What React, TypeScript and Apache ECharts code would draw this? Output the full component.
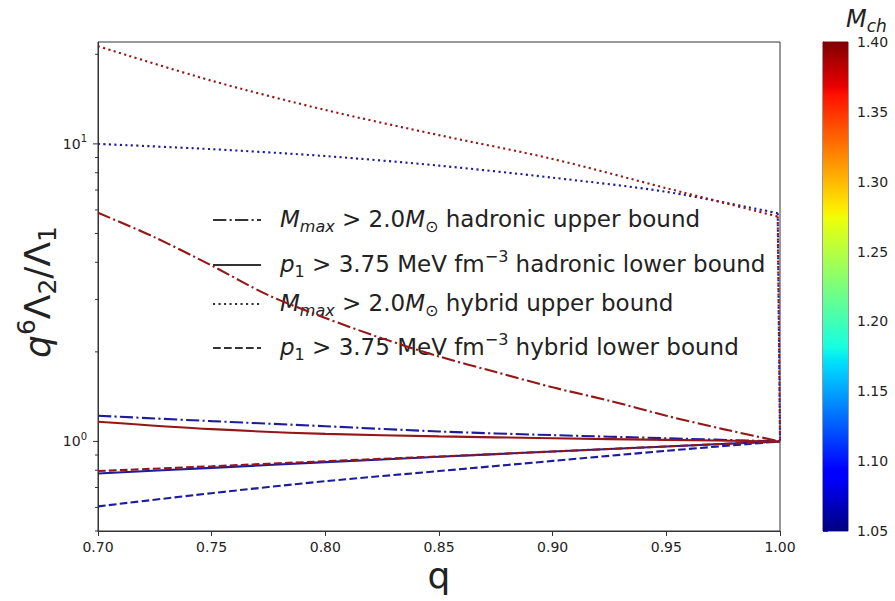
import React, { useEffect, useRef } from 'react';
import * as echarts from 'echarts';

// Mass ratio samples
const qUpper = [0.7, 0.75, 0.8, 0.85, 0.9, 0.95, 0.999, 1.0];
const qFine = [0.7, 0.725, 0.75, 0.775, 0.8, 0.825, 0.85, 0.875, 0.9, 0.925, 0.95, 0.975, 1.0];
const qCoarse = [0.7, 0.75, 0.8, 0.85, 0.9, 0.95, 1.0];

// q^6 Λ2/Λ1 bounds for the two chirp masses (1.05 and 1.40)
const hybridUpper105 = [10.0, 9.6, 9.1, 8.45, 7.7, 6.9, 5.85, 1.0];
const hybridUpper140 = [21.3, 16.3, 13.0, 10.7, 8.9, 7.1, 5.7, 1.0];
const hadronicUpper105 = [1.22, 1.17, 1.125, 1.08, 1.05, 1.025, 1.0];
const hadronicUpper140 = [5.87, 4.85, 3.9, 3.1, 2.6, 2.22, 1.93, 1.71, 1.52, 1.37, 1.22, 1.1, 1.0];
const hadronicLower105 = [0.78, 0.815, 0.852, 0.888, 0.925, 0.962, 1.0];
const hadronicLower140 = [1.165, 1.1, 1.06, 1.04, 1.025, 1.012, 1.0];
const hybridLower105 = [0.605, 0.67, 0.735, 0.795, 0.86, 0.93, 1.0];
const hybridLower140 = [0.795, 0.825, 0.858, 0.89, 0.925, 0.962, 1.0];

// Axis settings
const qRange = [0.7, 1.0];
const ratioRange = [0.5, 22];
const yMajorTicks = [1, 10];
const yMinorTicks = [0.5, 0.6, 0.7, 0.8, 0.9, 2, 3, 4, 5, 6, 7, 8, 9, 20];
const mchRange = [1.05, 1.4];

const legendLabels = [
  '{it|M}{subi|max}{n| > 2.0}{it|M}{sub|⊙}{n| hadronic upper bound}',
  '{it|p}{sub|1}{n| > 3.75 MeV fm}{sup|−3}{n| hadronic lower bound}',
  '{it|M}{subi|max}{n| > 2.0}{it|M}{sub|⊙}{n| hybrid upper bound}',
  '{it|p}{sub|1}{n| > 3.75 MeV fm}{sup|−3}{n| hybrid lower bound}',
];

const FONT = 'DejaVu Sans';
const INK = '#222';
const FRAME = '#333';

// jet colormap stops, t in [0, 1]
const JET: [number, string][] = [
  [0, '#000080'],
  [0.11, '#0000ff'],
  [0.125, '#0000ff'],
  [0.34, '#00dbff'],
  [0.35, '#00e5f7'],
  [0.375, '#14ffe2'],
  [0.64, '#eeff08'],
  [0.65, '#f7f500'],
  [0.66, '#ffec00'],
  [0.89, '#ff1300'],
  [0.91, '#e80000'],
  [1, '#800000'],
];
const COLOR_LOW = '#1c1c9c';
const COLOR_HIGH = '#941616';

const LW = 2.1;
const DASH_DOT = [13.3, 3.3, 2.1, 3.3];
const DASHED = [7.7, 3.3];
const DOTTED = [2.1, 3.4];
const SOLID: number[] | null = null;

function curve(q: number[], vals: number[], color: string, dash: number[] | null, smooth = 0.3) {
  return {
    type: 'line',
    xAxisIndex: 0,
    yAxisIndex: 0,
    data: q.map((x, i) => [x, vals[i]]),
    symbol: 'none',
    showSymbol: false,
    silent: true,
    smooth,
    lineStyle: { color, width: LW, type: dash ?? 'solid', cap: 'butt' },
  };
}

// upper hybrid bounds: smooth run up to q just below 1, then the drop to 1 at q = 1
function upperHybrid(vals: number[], color: string) {
  const n = qUpper.length;
  return [
    curve(qUpper.slice(0, n - 1), vals.slice(0, n - 1), color, DOTTED),
    curve(qUpper.slice(n - 2), vals.slice(n - 2), color, DOTTED, 0),
  ];
}

const legendRows = [220, 265, 304, 348];
const legendDashes = [DASH_DOT, SOLID, DOTTED, DASHED];

const LEG = 23;
const LEG_S = 16;
const legendRich = {
  n: { fontSize: LEG, fontFamily: FONT, verticalAlign: 'middle', color: INK },
  it: { fontSize: LEG, fontFamily: FONT, fontStyle: 'italic', verticalAlign: 'middle', color: INK },
  subi: { fontSize: LEG_S, fontFamily: FONT, fontStyle: 'italic', verticalAlign: 'bottom', color: INK },
  sub: { fontSize: LEG_S, fontFamily: FONT, verticalAlign: 'bottom', color: INK },
  sup: { fontSize: LEG_S, fontFamily: FONT, verticalAlign: 'top', color: INK },
};

const option: any = {
  animation: false,
  backgroundColor: '#fff',
  grid: [
    { left: 98, top: 42, width: 682, height: 489, show: true, borderColor: FRAME, borderWidth: 1, backgroundColor: 'transparent', containLabel: false },
    { left: 823, top: 42, width: 25, height: 489, show: true, borderColor: FRAME, borderWidth: 1, backgroundColor: 'transparent', containLabel: false },
  ],
  xAxis: [
    {
      gridIndex: 0,
      type: 'value',
      min: qRange[0],
      max: qRange[1],
      interval: 0.05,
      name: 'q',
      nameLocation: 'middle',
      nameGap: 26,
      nameMoveOverlap: false,
      nameTextStyle: { fontSize: 36, fontFamily: FONT, color: INK, lineHeight: 36 },
      axisLine: { show: true, lineStyle: { color: FRAME, width: 1 } },
      axisTick: { show: true, length: 5, lineStyle: { color: FRAME, width: 1 } },
      axisLabel: { fontSize: 14, fontFamily: FONT, color: INK, margin: 9, formatter: (v: number) => v.toFixed(2) },
      splitLine: { show: false },
    },
    { gridIndex: 1, type: 'value', min: 0, max: 1, show: false },
  ],
  yAxis: [
    {
      gridIndex: 0,
      type: 'log',
      logBase: 10,
      min: ratioRange[0],
      max: ratioRange[1],
      axisLine: { show: true, lineStyle: { color: FRAME, width: 1 } },
      axisTick: { show: false },
      axisLabel: {
        fontSize: 14,
        fontFamily: FONT,
        color: INK,
        margin: 11,
        lineHeight: 20,
        formatter: (v: number) => {
          const e = Math.log10(v);
          const r = Math.round(e);
          return Math.abs(e - r) < 1e-6 ? `{n|10}{sup|${r}}` : '';
        },
        rich: {
          n: { fontSize: 14, fontFamily: FONT, color: INK, verticalAlign: 'middle' },
          sup: { fontSize: 10, fontFamily: FONT, color: INK, verticalAlign: 'top' },
        },
      },
      splitLine: { show: false },
    },
    {
      gridIndex: 1,
      type: 'value',
      position: 'right',
      min: mchRange[0],
      max: mchRange[1],
      interval: 0.05,
      axisLine: { show: true, lineStyle: { color: FRAME, width: 1 } },
      axisTick: { show: true, length: 5, lineStyle: { color: FRAME, width: 1 } },
      axisLabel: { fontSize: 14, fontFamily: FONT, color: INK, margin: 9, formatter: (v: number) => v.toFixed(2) },
      splitLine: { show: false },
    },
  ],
  series: [
    // log-axis major and minor ticks
    {
      type: 'custom',
      xAxisIndex: 0,
      yAxisIndex: 0,
      clip: false,
      silent: true,
      encode: { x: 0, y: 1 },
      data: [
        ...yMajorTicks.map((v) => [qRange[0], v, 1]),
        ...yMinorTicks.map((v) => [qRange[0], v, 0]),
      ],
      renderItem: (_p: any, api: any) => {
        const pt = api.coord([api.value(0), api.value(1)]);
        const len = api.value(2) ? 5 : 3;
        return {
          type: 'line',
          shape: { x1: pt[0] - len, y1: pt[1], x2: pt[0], y2: pt[1] },
          style: { stroke: FRAME, lineWidth: 1 },
        };
      },
    },
    // colour bar
    {
      type: 'custom',
      xAxisIndex: 1,
      yAxisIndex: 1,
      silent: true,
      encode: { x: [0, 2], y: [1, 3] },
      data: [[0, mchRange[0], 1, mchRange[1]]],
      renderItem: (_p: any, api: any) => {
        const a = api.coord([api.value(0), api.value(3)]);
        const b = api.coord([api.value(2), api.value(1)]);
        return {
          type: 'rect',
          shape: { x: a[0], y: a[1], width: b[0] - a[0], height: b[1] - a[1] },
          style: {
            fill: new echarts.graphic.LinearGradient(
              0, 0, 0, 1,
              JET.slice().reverse().map(([t, c]) => ({ offset: 1 - t, color: c })),
            ),
          },
        };
      },
    },
    ...upperHybrid(hybridUpper105, COLOR_LOW),
    curve(qCoarse, hadronicUpper105, COLOR_LOW, DASH_DOT),
    curve(qCoarse, hadronicLower105, COLOR_LOW, SOLID),
    curve(qCoarse, hybridLower105, COLOR_LOW, DASHED),
    ...upperHybrid(hybridUpper140, COLOR_HIGH),
    curve(qFine, hadronicUpper140, COLOR_HIGH, DASH_DOT),
    curve(qCoarse, hadronicLower140, COLOR_HIGH, SOLID),
    curve(qCoarse, hybridLower140, COLOR_HIGH, DASHED),
  ],
  graphic: [
    ...legendRows.flatMap((y, i) => [
      {
        type: 'line',
        silent: true,
        shape: { x1: 213, y1: y, x2: 261, y2: y },
        style: { stroke: FRAME, lineWidth: LW, lineDash: legendDashes[i] ?? undefined },
      },
      {
        type: 'text',
        silent: true,
        x: 280,
        y: y - 1,
        style: {
          text: legendLabels[i],
          rich: legendRich,
          fontSize: LEG,
          fontFamily: FONT,
          fill: INK,
          lineHeight: 31,
          align: 'left',
          verticalAlign: 'middle',
        },
      },
    ]),
    // y-axis title
    {
      type: 'text',
      silent: true,
      x: 37,
      y: 292,
      rotation: Math.PI / 2,
      style: {
        text: '{iq|q}{sup|6}{n|Λ}{sub|2}{n|/Λ}{sub|1}',
        rich: {
          n: { fontSize: 36, fontFamily: FONT, color: INK, verticalAlign: 'middle' },
          iq: { fontSize: 36, fontFamily: FONT, color: INK, fontStyle: 'italic', verticalAlign: 'middle' },
          sup: { fontSize: 25, fontFamily: FONT, color: INK, verticalAlign: 'top' },
          sub: { fontSize: 25, fontFamily: FONT, color: INK, verticalAlign: 'bottom' },
        },
        fontSize: 36,
        fontFamily: FONT,
        fill: INK,
        lineHeight: 46,
        align: 'center',
        verticalAlign: 'middle',
      },
    },
    // colour bar title
    {
      type: 'text',
      silent: true,
      x: 846,
      y: 19,
      style: {
        text: '{it|M}{sub|ch}',
        rich: {
          it: { fontSize: 24, fontFamily: FONT, fontStyle: 'italic', verticalAlign: 'middle', color: INK },
          sub: { fontSize: 17, fontFamily: FONT, fontStyle: 'italic', verticalAlign: 'bottom', color: INK },
        },
        fontSize: 24,
        fontFamily: FONT,
        fill: INK,
        lineHeight: 30,
        align: 'left',
        verticalAlign: 'middle',
      },
    },
  ],
};

export default function App() {
  const ref = useRef<HTMLDivElement>(null);
  useEffect(() => {
    if (!ref.current) return;
    const chart = echarts.init(ref.current, null, { renderer: 'svg' });
    chart.setOption(option);
    return () => chart.dispose();
  }, []);
  return (
    <div
      ref={ref}
      style={{ position: 'fixed', left: 0, top: 0, width: 895, height: 601, background: '#fff' }}
    />
  );
}
